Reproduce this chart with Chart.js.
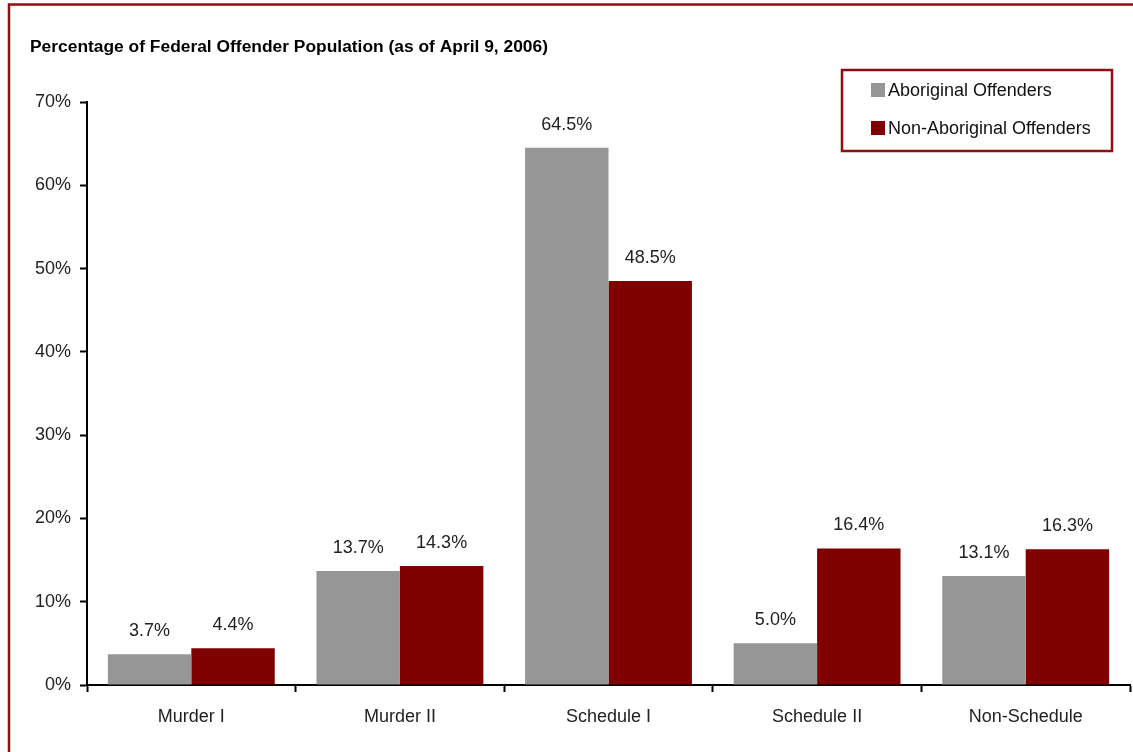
<!DOCTYPE html>
<html>
<head>
<meta charset="utf-8">
<script src="https://cdn.jsdelivr.net/npm/chart.js@4"></script>
<style>
  html, body { margin: 0; padding: 0; background: #fff; }
  #wrap { width: 1133px; height: 752px; }
</style>
</head>
<body>
<div id="wrap"><canvas id="chart" width="1133" height="752"></canvas></div>
<script>
var categories = ['Murder I', 'Murder II', 'Schedule I', 'Schedule II', 'Non-Schedule'];
var aboriginal = [3.7, 13.7, 64.5, 5.0, 13.1];
var nonAboriginal = [4.4, 14.3, 48.5, 16.4, 16.3];
var seriesNames = ['Aboriginal Offenders', 'Non-Aboriginal Offenders'];
var titleText = 'Percentage of Federal Offender Population (as of April 9, 2006)';

var FONT = '"Liberation Sans Narrow", "Arial Narrow", "Liberation Sans", sans-serif';
var RED = '#800000';
var GRAY = '#969696';

// frame, title, value labels and the boxed legend
var decor = {
   id: 'decor',
   beforeDraw: function(chart) {
      var c = chart.ctx;
      c.save();
      c.fillStyle = '#fff';
      c.fillRect(0, 0, chart.width, chart.height);
      c.strokeStyle = '#8b1010';
      c.lineWidth = 2.5;
      c.strokeRect(9, 4.5, chart.width + 20, chart.height + 20);
      c.fillStyle = '#000';
      c.font = 'bold 17.4px ' + FONT;
      c.textBaseline = 'middle';
      c.fillText(titleText, 30, 47);
      c.restore();
   },
   afterDatasetsDraw: function(chart) {
      var c = chart.ctx;
      c.save();
      c.font = '18px ' + FONT;
      c.fillStyle = '#222';
      c.textAlign = 'center';
      c.textBaseline = 'bottom';
      chart.data.datasets.forEach(function(ds, i) {
         chart.getDatasetMeta(i).data.forEach(function(bar, j) {
            c.fillText(ds.data[j].toFixed(1) + '%', bar.x, bar.y - 14);
         });
      });

      // legend box
      var lx = 842, ly = 70, lw = 270, lh = 81;
      c.strokeStyle = '#8b1010';
      c.lineWidth = 2.5;
      c.strokeRect(lx, ly, lw, lh);
      c.textAlign = 'left';
      c.textBaseline = 'middle';
      chart.data.datasets.forEach(function(ds, i) {
         var y = ly + 20 + i * 38;
         c.fillStyle = ds.backgroundColor;
         c.fillRect(lx + 29, y - 7, 14, 14);
         c.fillStyle = '#111';
         c.fillText(ds.label, lx + 46, y + 1);
      });
      c.restore();
   }
};

var config = {
   type: 'bar',
   data: {
      labels: categories,
      datasets: [{
         label: seriesNames[0],
         data: aboriginal,
         backgroundColor: GRAY,
         categoryPercentage: 0.8,
         barPercentage: 1.0
      }, {
         label: seriesNames[1],
         data: nonAboriginal,
         backgroundColor: RED,
         categoryPercentage: 0.8,
         barPercentage: 1.0
      }]
   },
   plugins: [decor],
   options: {
      responsive: false,
      animation: false,
      layout: {
         padding: { top: 102, right: 3, bottom: 0, left: 0 }
      },
      plugins: {
         legend: { display: false },
         tooltip: { enabled: false },
         title: { display: false }
      },
      scales: {
         x: {
            afterFit: function(scale) { scale.height = 67; },
            grid: {
               offset: true,
               drawOnChartArea: false,
               drawTicks: true,
               tickLength: 7,
               tickWidth: 2,
               tickColor: '#000'
            },
            border: { color: '#000', width: 2 },
            ticks: {
               color: '#222',
               padding: 14,
               font: { family: FONT, size: 18 }
            }
         },
         y: {
            min: 0,
            max: 70,
            afterFit: function(scale) { scale.width = 87; },
            grid: {
               drawOnChartArea: false,
               tickLength: 7,
               tickWidth: 2,
               tickColor: '#000'
            },
            border: { color: '#000', width: 2 },
            ticks: {
               stepSize: 10,
               color: '#222',
               padding: 9,
               font: { family: FONT, size: 18 },
               callback: function(v) { return v + '%'; }
            }
         }
      }
   }
};

new Chart(document.getElementById('chart'), config);
</script>
</body>
</html>
